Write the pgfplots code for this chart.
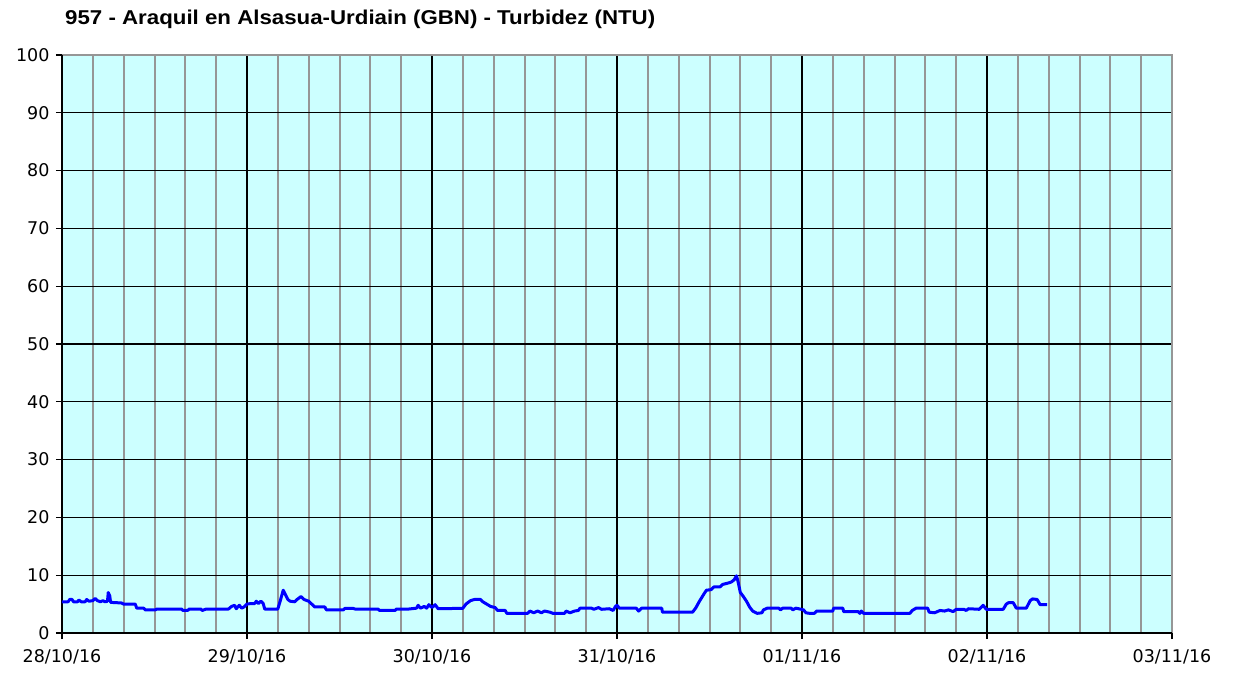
\documentclass[border=0pt]{standalone}
\usepackage{fontspec}
\setmainfont{DejaVu Sans}
\newfontfamily\titlefont{Liberation Sans}
\usepackage{graphicx}
\usepackage{pgfplots}
\pgfplotsset{compat=1.18}
\definecolor{bgcyan}{RGB}{204,255,255}
\definecolor{gridgray}{RGB}{150,150,150}
\definecolor{lineblue}{RGB}{0,0,255}

\pgfplotstableread{
h v
0 5.4
0.8 5.4
1.0 5.8
1.3 5.8
1.5 5.4
2.0 5.4
2.2 5.7
2.5 5.4
3.0 5.4
3.2 5.8
3.5 5.5
4.0 5.6
4.3 6.0
4.6 5.6
5.0 5.4
5.3 5.6
5.6 5.4
5.9 5.5
6.0 7.0
6.2 6.4
6.3 5.3
7.7 5.2
8.0 5.0
9.5 5.0
9.7 4.3
10.6 4.3
10.8 4.0
12.1 4.0
12.3 4.15
15.5 4.15
15.7 3.9
16.3 3.9
16.5 4.15
18.0 4.15
18.2 3.9
18.7 4.15
21.6 4.15
22.0 4.6
22.4 4.8
22.6 4.2
23.0 4.8
23.3 4.3
23.6 4.5
24.0 5.0
24.5 5.1
25.0 5.1
25.2 5.5
25.5 5.1
25.8 5.5
26.1 5.1
26.3 4.15
28.0 4.15
28.3 5.5
28.7 7.4
29.0 6.6
29.3 5.8
29.6 5.5
30.2 5.4
30.5 5.8
31.0 6.3
31.4 5.8
32.0 5.5
32.4 5.0
32.8 4.5
34.1 4.5
34.3 4.0
36.5 4.0
36.7 4.25
37.8 4.25
38.0 4.15
41.0 4.15
41.2 3.9
43.2 3.9
43.4 4.15
45.0 4.15
46.0 4.3
46.2 4.8
46.5 4.3
47.0 4.6
47.3 4.3
47.6 4.9
48.0 4.4
48.4 4.9
48.8 4.2
52.0 4.27
52.4 5.0
53.0 5.6
53.5 5.8
54.3 5.8
54.6 5.4
55.1 5.0
55.6 4.6
56.2 4.4
56.5 3.9
57.5 3.9
57.7 3.4
60.4 3.4
60.7 3.8
61.2 3.5
61.7 3.8
62.2 3.5
62.6 3.8
63.3 3.6
63.7 3.4
65.2 3.4
65.4 3.8
65.9 3.5
66.5 3.8
67.0 3.9
67.2 4.3
68.7 4.3
69.0 4.1
69.6 4.4
70.0 4.1
71.0 4.2
71.5 3.9
71.8 4.6
72.0 4.8
72.3 4.3
74.5 4.3
74.8 3.8
75.2 4.3
77.8 4.3
77.9 3.6
81.8 3.6
82.2 4.3
82.7 5.5
83.3 6.8
83.6 7.4
84.2 7.5
84.6 8.0
85.4 8.0
85.7 8.4
86.3 8.6
86.8 8.8
87.2 9.2
87.5 9.9
87.7 8.9
88.0 7.0
88.4 6.3
88.8 5.5
89.2 4.5
89.6 3.8
90.2 3.4
90.8 3.5
91.0 4.0
91.5 4.3
93.0 4.3
93.2 4.0
93.5 4.3
94.6 4.3
94.8 4.0
95.2 4.3
95.9 4.1
96.2 4.0
96.5 3.5
97.0 3.4
97.6 3.4
97.9 3.8
100.0 3.8
100.1 4.3
101.3 4.3
101.4 3.7
103.3 3.7
103.5 3.4
103.7 3.8
104.0 3.4
110.0 3.4
110.3 3.9
110.8 4.3
112.3 4.3
112.5 3.6
113.2 3.5
113.9 3.9
114.5 3.8
115.0 4.0
115.6 3.7
116.0 4.1
117.0 4.1
117.3 3.9
117.6 4.2
119.0 4.1
119.5 4.8
119.9 4.1
122.1 4.1
122.5 5.0
122.8 5.25
123.4 5.25
123.8 4.3
125.1 4.3
125.6 5.6
125.9 5.9
126.5 5.8
126.9 4.9
127.8 4.9
}\turbdata

\begin{document}
\begin{tikzpicture}
\path[use as bounding box] (0,0) rectangle (1233pt,673pt);
\node[anchor=west, inner sep=0pt] at (65pt,654pt) {\resizebox{590pt}{\height}{\titlefont\fontsize{20pt}{24pt}\selectfont\bfseries 957 - Araquil en Alsasua-Urdiain (GBN) - Turbidez (NTU)}};
\begin{axis}[
  at={(62pt,40pt)}, anchor=south west,
  scale only axis, width=1110pt, height=578pt,
  xmin=0, xmax=144, ymin=0, ymax=100,
  xtick={0,24,...,144},
  xticklabels={28/10/16,29/10/16,30/10/16,31/10/16,01/11/16,02/11/16,03/11/16},
  minor x tick num=5,
  ytick={0,10,...,100},
  grid=both,
  major grid style={black, line width=1.2pt},
  minor grid style={gridgray, line width=2pt},
  axis background/.style={fill=bgcyan},
  tick align=outside, tick pos=left,
  major tick length=6pt, minor tick length=0pt,
  tick style={black, line width=1.2pt},
  axis line style={black, line width=1.2pt},
  ticklabel style={font=\fontsize{17.5pt}{21pt}\selectfont},
  xticklabel style={yshift=-7pt},
  yticklabel style={xshift=-3pt},
  /pgf/number format/assume math mode=true,
  clip=false,
]
\draw[gridgray, line width=2pt] (rel axis cs:0,1) -- (rel axis cs:1,1) -- (rel axis cs:1,0);
\draw[black, line width=1.2pt] (rel axis cs:0,0) -- (rel axis cs:0,1);
\draw[black, line width=1.2pt] (rel axis cs:0,0) -- (rel axis cs:1,0);
\addplot[lineblue, line width=3pt, line join=round] table[x=h, y=v] {\turbdata};
\end{axis}
\end{tikzpicture}
\end{document}
